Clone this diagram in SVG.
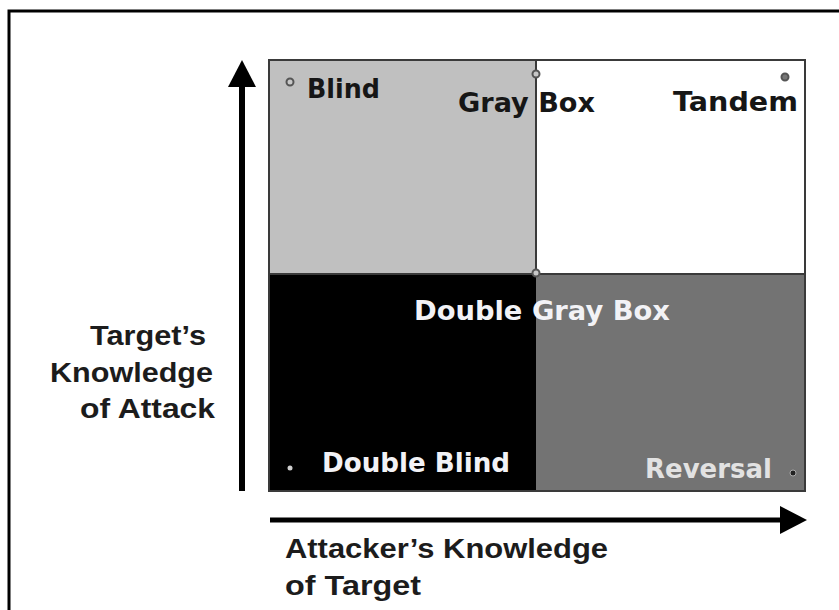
<svg xmlns="http://www.w3.org/2000/svg" width="839" height="610" viewBox="0 0 839 610">
  <style>
    .q { font-family: "DejaVu Sans", "Liberation Sans", sans-serif; font-weight: bold; font-size: 27px; }
    .axis { font-family: "Liberation Sans", Arial, sans-serif; font-weight: bold; font-size: 28px; fill: #1c1c1c; }
    .dark { fill: #161616; }
    .light { fill: #f2f2f6; }
    .grid { stroke: #3a3a3a; stroke-width: 2; fill: none; }
    .dot { stroke: #555; stroke-width: 2; }
  </style>
  <defs>
    <marker id="arrow" viewBox="0 0 27 28" refX="0" refY="14" markerWidth="27" markerHeight="28" markerUnits="userSpaceOnUse" orient="auto">
      <path d="M0,0 L27,14 L0,28 Z" fill="#000"/>
    </marker>
  </defs>
  <rect width="839" height="610" fill="#fff"/>
  <path d="M9,610 V11 H839" fill="none" stroke="#000" stroke-width="3"/>

  <g id="quadrant-blind">
    <rect x="269" y="60" width="267" height="214" fill="#c0c0c0"/>
    <circle class="dot" cx="290" cy="82" r="3.5" fill="#c8c8c8"/>
    <text class="q dark" x="307" y="98" textLength="73" lengthAdjust="spacingAndGlyphs">Blind</text>
  </g>
  <g id="quadrant-tandem">
    <rect x="536" y="60" width="269" height="214" fill="#ffffff"/>
    <circle class="dot" cx="785" cy="77" r="3.5" fill="#777"/>
    <text class="q dark" x="673" y="111" textLength="125" lengthAdjust="spacingAndGlyphs">Tandem</text>
  </g>
  <g id="quadrant-double-blind">
    <rect x="269" y="274" width="267" height="217" fill="#000000"/>
    <circle cx="290" cy="468" r="2.5" fill="#cfcfcf"/>
    <text class="q light" x="322" y="472" textLength="188" lengthAdjust="spacingAndGlyphs">Double Blind</text>
  </g>
  <g id="quadrant-reversal">
    <rect x="536" y="274" width="269" height="217" fill="#737373"/>
    <circle cx="793" cy="473" r="3" fill="#222" stroke="#aaa" stroke-width="1"/>
    <text class="q" x="645" y="478" fill="#e2e2e2" textLength="127" lengthAdjust="spacingAndGlyphs">Reversal</text>
  </g>

  <g id="grid-lines">
    <rect class="grid" x="269" y="60" width="536" height="431" stroke-width="3"/>
    <line class="grid" x1="536" y1="60" x2="536" y2="274"/>
    <line class="grid" x1="269" y1="274" x2="805" y2="274"/>
  </g>

  <g id="gray-box">
    <circle class="dot" cx="536" cy="74" r="3.5" fill="#c8c8c8"/>
    <text class="q dark" x="458" y="112" textLength="137" lengthAdjust="spacingAndGlyphs">Gray Box</text>
  </g>
  <g id="double-gray-box">
    <circle class="dot" cx="536" cy="273" r="3.5" fill="#c8c8c8"/>
    <text class="q light" x="414" y="320" textLength="256" lengthAdjust="spacingAndGlyphs">Double Gray Box</text>
  </g>

  <g id="connectors">
    <line x1="242" y1="491" x2="242" y2="87" stroke="#000" stroke-width="6" marker-end="url(#arrow)"/>
    <line x1="270" y1="520" x2="780" y2="520" stroke="#000" stroke-width="5" marker-end="url(#arrow)"/>
  </g>

  <g id="y-axis-label">
    <text class="axis" x="90" y="345" textLength="116" lengthAdjust="spacingAndGlyphs">Target’s</text>
    <text class="axis" x="50" y="382" textLength="163" lengthAdjust="spacingAndGlyphs">Knowledge</text>
    <text class="axis" x="80" y="418" textLength="135" lengthAdjust="spacingAndGlyphs">of Attack</text>
  </g>
  <g id="x-axis-label">
    <text class="axis" x="285" y="558" textLength="323" lengthAdjust="spacingAndGlyphs">Attacker’s Knowledge</text>
    <text class="axis" x="285" y="595" textLength="136" lengthAdjust="spacingAndGlyphs">of Target</text>
  </g>
</svg>
